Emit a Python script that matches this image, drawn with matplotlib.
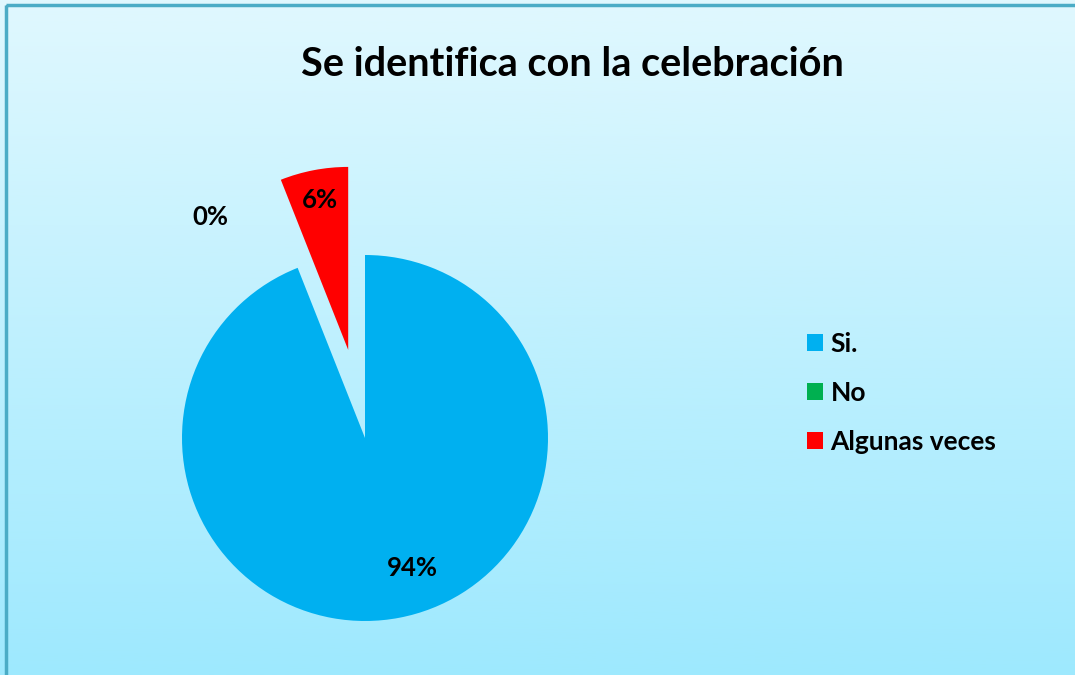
import numpy as np
import matplotlib.pyplot as plt
from matplotlib.patches import Rectangle, Patch

plt.rcParams['font.family'] = ['Lato', 'DejaVu Sans']

labels = ['Si.', 'No', 'Algunas veces']
values = [94, 0, 6]
colors = ['#00B0F0', '#00B050', '#FF0000']
pct_text = ['94%', '0%', '6%']
title = 'Se identifica con la celebración'

W, H = 1075, 675
fig = plt.figure(figsize=(W / 100, H / 100), dpi=100)

# background gradient
bg = fig.add_axes([0, 0, 1, 1])
grad = np.linspace(0, 1, 256).reshape(-1, 1)
top = np.array([0xE0, 0xF8, 0xFE]) / 255
bot = np.array([0x9E, 0xE9, 0xFE]) / 255
img = top + (bot - top) * grad[:, :, None]
bg.imshow(img, aspect='auto', extent=[0, W, H, 0])
bg.set_xlim(0, W)
bg.set_ylim(H, 0)
bg.add_patch(Rectangle((6, 5), W + 20, H + 20, fill=False, edgecolor='#4BACC6', lw=2.5))
bg.axis('off')

# pie axes: centre (365, 438) px, radius 183 px
R = 183
cx, cy = 365, H - 438
half = 320
ax = fig.add_axes([(cx - half) / W, (cy - half) / H, 2 * half / W, 2 * half / H])

wedges, _ = ax.pie(values, colors=colors, startangle=90, counterclock=False,
                   explode=[0, 0, 0.49], radius=1, wedgeprops=dict(linewidth=0))
ax.set_xlim(-half / R, half / R)
ax.set_ylim(-half / R, half / R)
ax.set_aspect('equal')
ax.axis('off')

label_pos = [(0.257, -0.71), (-0.847, 1.208), (-0.246, 1.30)]
for t, (x, y) in zip(pct_text, label_pos):
    ax.text(x, y, t, ha='center', va='center', fontsize=18.5, fontweight='bold', color='black')

fig.text(572 / W, 1 - 65 / H, title, ha='center', va='center', fontsize=28.5, fontweight='bold')

handles = [Patch(facecolor=c, edgecolor='none') for c in colors]
fig.legend(handles, labels, loc='center left', bbox_to_anchor=(783 / W, 1 - 393 / H),
           frameon=False, prop=dict(weight='bold', size=19),
           handlelength=0.6, handleheight=0.6, handletextpad=0.3, labelspacing=0.95)

fig.savefig('out.png', dpi=100)
